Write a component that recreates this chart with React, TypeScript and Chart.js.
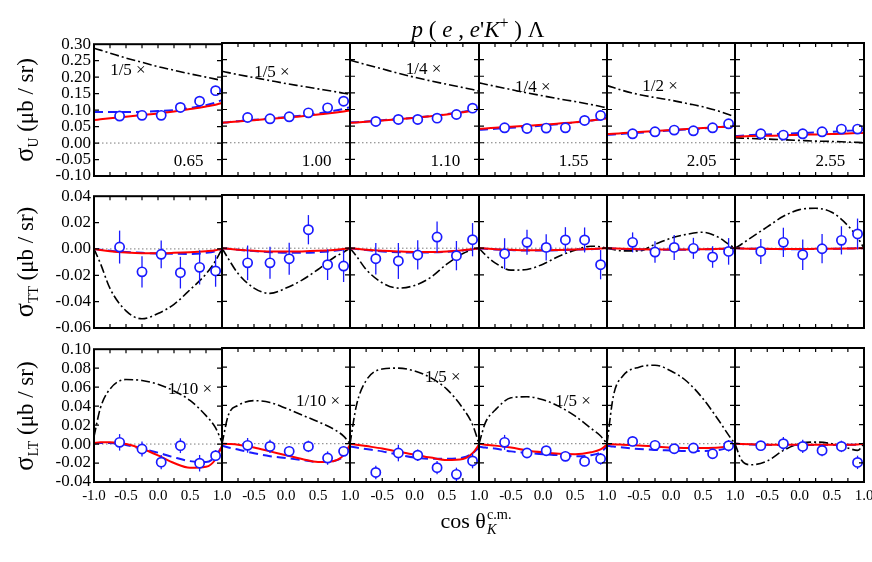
import React, { useEffect, useRef } from "react";
import { Chart, registerables } from "chart.js";
Chart.register(...registerables);

// ---------------- data ----------------
const energies = ["0.65", "1.00", "1.10", "1.55", "2.05", "2.55"];
const pointX = [-0.6, -0.25, 0.05, 0.35, 0.65, 0.9];
const curveX = [-1, -0.9, -0.75, -0.5, -0.25, 0, 0.25, 0.5, 0.75, 0.9, 1];

// sigma_U
const uPoints = [
  [0.082, 0.084, 0.084, 0.108, 0.127, 0.159],
  [0.076, 0.072, 0.078, 0.09, 0.105, 0.125],
  [0.064, 0.07, 0.07, 0.074, 0.085, 0.104],
  [0.045, 0.043, 0.044, 0.045, 0.067, 0.082],
  [0.027, 0.033, 0.038, 0.036, 0.045, 0.057],
  [0.027, 0.023, 0.027, 0.033, 0.041, 0.041],
];
const uErrors = [
  [0.003, 0.003, 0.003, 0.003, 0.003, 0.004],
  [0.003, 0.003, 0.003, 0.003, 0.003, 0.004],
  [0.003, 0.003, 0.003, 0.003, 0.003, 0.004],
  [0.003, 0.003, 0.003, 0.003, 0.003, 0.004],
  [0.003, 0.003, 0.003, 0.003, 0.003, 0.004],
  [0.003, 0.003, 0.003, 0.003, 0.003, 0.004],
];
const uSolid = [
  [0.07, 0.072, 0.075, 0.08, 0.085, 0.09, 0.096, 0.103, 0.111, 0.116, 0.122],
  [0.06, 0.062, 0.064, 0.068, 0.072, 0.076, 0.08, 0.085, 0.09, 0.094, 0.097],
  [0.06, 0.061, 0.063, 0.067, 0.071, 0.075, 0.08, 0.085, 0.092, 0.097, 0.102],
  [0.042, 0.043, 0.045, 0.048, 0.051, 0.054, 0.058, 0.062, 0.067, 0.071, 0.074],
  [0.026, 0.027, 0.029, 0.032, 0.035, 0.038, 0.041, 0.044, 0.047, 0.049, 0.051],
  [0.018, 0.019, 0.02, 0.021, 0.022, 0.024, 0.025, 0.026, 0.028, 0.029, 0.03],
];
const uDashed = [
  [0.094, 0.094, 0.094, 0.094, 0.095, 0.097, 0.1, 0.106, 0.115, 0.123, 0.131],
  [0.06, 0.062, 0.065, 0.069, 0.073, 0.077, 0.082, 0.088, 0.096, 0.102, 0.107],
  [0.061, 0.062, 0.064, 0.068, 0.071, 0.075, 0.08, 0.086, 0.093, 0.098, 0.103],
  [0.039, 0.04, 0.042, 0.045, 0.048, 0.052, 0.056, 0.061, 0.067, 0.071, 0.075],
  [0.024, 0.025, 0.027, 0.03, 0.034, 0.037, 0.04, 0.043, 0.047, 0.049, 0.051],
  [0.02, 0.021, 0.023, 0.025, 0.027, 0.029, 0.031, 0.033, 0.036, 0.038, 0.04],
];
const uDashDot = [
  [0.288, 0.282, 0.273, 0.258, 0.245, 0.232, 0.221, 0.21, 0.2, 0.194, 0.19],
  [0.215, 0.211, 0.205, 0.196, 0.187, 0.178, 0.17, 0.162, 0.154, 0.149, 0.145],
  [0.248, 0.243, 0.235, 0.222, 0.209, 0.197, 0.186, 0.176, 0.166, 0.16, 0.155],
  [0.18, 0.176, 0.17, 0.16, 0.15, 0.141, 0.132, 0.124, 0.115, 0.109, 0.105],
  [0.172, 0.166, 0.157, 0.145, 0.136, 0.128, 0.118, 0.108, 0.095, 0.085, 0.078],
  [0.015, 0.014, 0.013, 0.011, 0.009, 0.007, 0.005, 0.004, 0.002, 0.001, 0.0],
];

// sigma_TT
const ttPoints = [
  [0.0014, -0.0174, -0.0041, -0.018, -0.014, -0.0167],
  [-0.011, -0.011, -0.0079, 0.0139, -0.0124, -0.0134],
  [-0.0079, -0.0096, -0.0051, 0.0084, -0.0056, 0.0064],
  [-0.0041, 0.0044, 0.0006, 0.0062, 0.0062, -0.0124],
  [0.0044, -0.0029, 0.0006, -0.0001, -0.0066, -0.0024],
  [-0.0024, 0.0044, -0.0049, -0.0004, 0.0059, 0.0107],
];
const ttErrors = [
  [0.0125, 0.0118, 0.0105, 0.012, 0.013, 0.012],
  [0.013, 0.012, 0.012, 0.011, 0.0115, 0.012],
  [0.0118, 0.0135, 0.011, 0.0116, 0.011, 0.0125],
  [0.0116, 0.0094, 0.0098, 0.0096, 0.0094, 0.011],
  [0.0075, 0.0081, 0.0094, 0.0079, 0.0081, 0.01],
  [0.0094, 0.011, 0.0115, 0.011, 0.0106, 0.0116],
];
const ttSolid = [
  [0, -0.0008, -0.0018, -0.0028, -0.0033, -0.0033, -0.003, -0.0025, -0.0017, -0.001, 0],
  [0, -0.0005, -0.0012, -0.002, -0.0025, -0.0025, -0.0024, -0.002, -0.0013, -0.0006, 0],
  [0, -0.0005, -0.0012, -0.002, -0.0025, -0.0028, -0.0028, -0.0024, -0.0015, -0.0008, 0],
  [0, -0.0003, -0.0008, -0.0012, -0.0015, -0.0015, -0.0013, -0.001, -0.0006, -0.0003, 0],
  [0, -0.0002, -0.0005, -0.0008, -0.001, -0.001, -0.001, -0.0008, -0.0005, -0.0003, 0],
  [0, -0.0002, -0.0004, -0.0005, -0.0006, -0.0006, -0.0005, -0.0004, -0.0003, -0.0001, 0],
];
const ttDashed = [
  [0, -0.0006, -0.0014, -0.0024, -0.003, -0.0034, -0.0037, -0.0038, -0.003, -0.0018, 0],
  [0, -0.0005, -0.0012, -0.0022, -0.003, -0.0035, -0.0035, -0.003, -0.002, -0.001, 0],
  [0, -0.0006, -0.0014, -0.0024, -0.003, -0.0033, -0.0032, -0.0027, -0.0017, -0.0009, 0],
  [0, -0.0004, -0.0009, -0.0014, -0.0017, -0.0017, -0.0015, -0.0011, -0.0007, -0.0003, 0],
  [0, -0.0003, -0.0006, -0.0009, -0.0011, -0.0011, -0.0011, -0.0009, -0.0006, -0.0003, 0],
  [0, -0.0002, -0.0004, -0.0006, -0.0007, -0.0007, -0.0006, -0.0005, -0.0003, -0.0001, 0],
];
const ttDashDot = [
  [0, -0.011, -0.03, -0.047, -0.053, -0.049, -0.042, -0.031, -0.019, -0.009, 0],
  [0, -0.008, -0.019, -0.03, -0.034, -0.03, -0.024, -0.016, -0.007, -0.003, 0],
  [0, -0.006, -0.016, -0.026, -0.03, -0.028, -0.022, -0.012, -0.004, -0.001, 0],
  [0, -0.005, -0.011, -0.0165, -0.016, -0.012, -0.006, -0.0015, 0.0015, 0.001, 0],
  [0, -0.001, -0.002, -0.002, 0.003, 0.0075, 0.0105, 0.012, 0.008, 0.003, 0],
  [0, 0.003, 0.008, 0.016, 0.024, 0.029, 0.03, 0.027, 0.017, 0.008, 0],
];

// sigma_LT
const ltPoints = [
  [0.0018, -0.0052, -0.0191, -0.0017, -0.0202, -0.0122],
  [-0.0017, -0.0028, -0.008, -0.0028, -0.015, -0.008],
  [-0.03, -0.0097, -0.012, -0.025, -0.032, -0.018],
  [0.0014, -0.0097, -0.0073, -0.0132, -0.0185, -0.0157],
  [0.0024, -0.0017, -0.0052, -0.0045, -0.0105, -0.0021],
  [-0.002, 0.0, -0.0028, -0.007, -0.0028, -0.0195],
];
const ltErrors = [
  [0.0087, 0.0078, 0.0075, 0.0078, 0.0087, 0.0057],
  [0.0077, 0.007, 0.005, 0.006, 0.007, 0.005],
  [0.007, 0.0087, 0.006, 0.007, 0.007, 0.0077],
  [0.0078, 0.005, 0.0047, 0.005, 0.005, 0.006],
  [0.005, 0.005, 0.005, 0.005, 0.005, 0.006],
  [0.004, 0.007, 0.007, 0.006, 0.006, 0.007],
];
const ltSolid = [
  [0.001, 0.0018, 0.002, 0.0, -0.005, -0.012, -0.02, -0.025, -0.024, -0.016, -0.002],
  [0, -0.0003, -0.001, -0.004, -0.008, -0.012, -0.016, -0.019, -0.018, -0.012, -0.001],
  [0, -0.001, -0.0025, -0.005, -0.0085, -0.0115, -0.0145, -0.017, -0.016, -0.01, -0.001],
  [0, -0.0012, -0.002, -0.004, -0.007, -0.009, -0.0105, -0.011, -0.009, -0.006, -0.001],
  [0, -0.0005, -0.001, -0.0018, -0.003, -0.004, -0.0045, -0.0045, -0.004, -0.0025, 0],
  [0, -0.0003, -0.0006, -0.001, -0.001, -0.001, -0.001, -0.001, -0.001, -0.0008, 0],
];
const ltDashed = [
  [0.001, 0.0012, 0.001, -0.001, -0.005, -0.009, -0.014, -0.018, -0.019, -0.013, -0.002],
  [-0.002, -0.004, -0.006, -0.01, -0.013, -0.015, -0.017, -0.019, -0.018, -0.013, -0.002],
  [-0.003, -0.004, -0.0055, -0.008, -0.0115, -0.0145, -0.0157, -0.0157, -0.0145, -0.01, -0.004],
  [-0.003, -0.004, -0.005, -0.008, -0.0095, -0.011, -0.012, -0.013, -0.012, -0.009, -0.003],
  [-0.002, -0.003, -0.004, -0.0055, -0.0065, -0.007, -0.0075, -0.0075, -0.0065, -0.004, -0.001],
  [0, -0.0004, -0.0008, -0.0012, -0.0014, -0.0014, -0.0014, -0.0013, -0.0012, -0.001, 0],
];
const ltDashDot = [
  [0.008, 0.038, 0.058, 0.068, 0.067, 0.063, 0.056, 0.046, 0.03, 0.017, 0.002],
  [0, 0.03, 0.04, 0.045, 0.043, 0.037, 0.03, 0.023, 0.015, 0.008, 0],
  [0, 0.04, 0.066, 0.078, 0.079, 0.076, 0.069, 0.057, 0.037, 0.02, 0],
  [0, 0.022, 0.035, 0.048, 0.049, 0.046, 0.039, 0.029, 0.016, 0.008, 0],
  [0, 0.05, 0.071, 0.08, 0.082, 0.076, 0.065, 0.047, 0.024, 0.009, 0],
  [0, -0.017, -0.022, -0.018, -0.007, 0.0, 0.0017, 0.0, -0.0045, -0.007, 0],
];

const uScaleNotes = ["1/5 \u00d7", "1/5 \u00d7", "1/4 \u00d7", "1/4 \u00d7", "1/2 \u00d7", ""];
const ttScaleNotes = ["", "", "", "", "", ""];
const ltScaleNotes = ["1/10 \u00d7", "1/10 \u00d7", "1/5 \u00d7", "1/5 \u00d7", "", ""];

// ---------------- layout / style ----------------
const SERIF = "'Liberation Serif', 'DejaVu Serif', serif";
const BLUE = "#1a1aff";
const RED = "#ff0000";
const colLefts = [94, 222, 350, 479, 607, 735, 864];
const rowTops = [43, 195, 348];
const rowHeights = [133, 133, 134];
const M = { left: 90, right: 20, top: 12, bottom: 40 };

const uNotePos = [
  [-0.47, 0.22], [-0.22, 0.211], [0.14, 0.22], [-0.16, 0.166], [-0.17, 0.17], [0, 0],
];
const ltNotePos = [
  [0.5, 0.058], [0.5, 0.044], [0.44, 0.069], [0.47, 0.044], [0, 0], [0, 0],
];

type RowDef = {
  points: number[][]; errors: number[][]; solid: number[][]; dashed: number[][]; dashDot: number[][];
  min: number; max: number; step: number; notes: string[]; notePos: number[][]; showEnergy: boolean;
};

const rows: RowDef[] = [
  { points: uPoints, errors: uErrors, solid: uSolid, dashed: uDashed, dashDot: uDashDot, min: -0.1, max: 0.3, step: 0.05, notes: uScaleNotes, notePos: uNotePos, showEnergy: true },
  { points: ttPoints, errors: ttErrors, solid: ttSolid, dashed: ttDashed, dashDot: ttDashDot, min: -0.06, max: 0.04, step: 0.02, notes: ttScaleNotes, notePos: uNotePos, showEnergy: false },
  { points: ltPoints, errors: ltErrors, solid: ltSolid, dashed: ltDashed, dashDot: ltDashDot, min: -0.04, max: 0.1, step: 0.02, notes: ltScaleNotes, notePos: ltNotePos, showEnergy: false },
];

function xy(xs: number[], ys: number[]) {
  return xs.map((x, i) => ({ x, y: ys[i] }));
}

function makeConfig(r: number, c: number): any {
  const row = rows[r];
  const pts = row.points[c];
  const errs = row.errors[c];
  const deco = {
    id: "deco" + r + "_" + c,
    beforeDatasetsDraw(chart: any) {
      const { ctx, chartArea: a, scales } = chart;
      const y0 = scales.y.getPixelForValue(0);
      ctx.save();
      ctx.strokeStyle = "#7a7a7a";
      ctx.lineWidth = 1;
      ctx.setLineDash([1.5, 2.5]);
      ctx.beginPath();
      ctx.moveTo(a.left, y0);
      ctx.lineTo(a.right, y0);
      ctx.stroke();
      ctx.restore();
    },
    beforeDatasetDraw(chart: any, args: any) {
      if (args.index !== 0) return;
      const { ctx, scales } = chart;
      ctx.save();
      ctx.strokeStyle = BLUE;
      ctx.lineWidth = 1.3;
      pts.forEach((v, i) => {
        const px = scales.x.getPixelForValue(pointX[i]);
        ctx.beginPath();
        ctx.moveTo(px, scales.y.getPixelForValue(v - errs[i]));
        ctx.lineTo(px, scales.y.getPixelForValue(v + errs[i]));
        ctx.stroke();
      });
      ctx.restore();
    },
    afterDatasetsDraw(chart: any) {
      const { ctx, chartArea: a, scales } = chart;
      ctx.save();
      ctx.strokeStyle = "#000";
      ctx.lineWidth = 1.2;
      ctx.setLineDash([]);
      // inward ticks
      scales.y.ticks.forEach((t: any) => {
        const py = scales.y.getPixelForValue(t.value);
        if (py <= a.top + 1 || py >= a.bottom - 1) return;
        ctx.beginPath();
        ctx.moveTo(a.left, py); ctx.lineTo(a.left + 5, py);
        ctx.moveTo(a.right, py); ctx.lineTo(a.right - 5, py);
        ctx.stroke();
      });
      scales.x.ticks.forEach((t: any) => {
        const px = scales.x.getPixelForValue(t.value);
        if (px <= a.left + 1 || px >= a.right - 1) return;
        ctx.beginPath();
        ctx.moveTo(px, a.top); ctx.lineTo(px, a.top + 4);
        ctx.moveTo(px, a.bottom); ctx.lineTo(px, a.bottom - 4);
        ctx.stroke();
      });
      // frame
      ctx.lineWidth = 2;
      ctx.strokeRect(a.left, a.top, a.right - a.left, a.bottom - a.top);
      // notes
      ctx.fillStyle = "#000";
      ctx.font = "17px " + SERIF;
      ctx.textAlign = "center";
      ctx.textBaseline = "middle";
      const note = row.notes[c];
      if (note) {
        const [nx, ny] = row.notePos[c];
        ctx.fillText(note, scales.x.getPixelForValue(nx), scales.y.getPixelForValue(ny));
      }
      if (row.showEnergy) {
        ctx.fillText(energies[c], scales.x.getPixelForValue(0.48), scales.y.getPixelForValue(-0.057));
      }
      ctx.restore();
    },
  };
  const lineBase = { pointRadius: 0, fill: false, cubicInterpolationMode: "monotone" };
  return {
    type: "line",
    data: {
      datasets: [
        {
          data: xy(pointX, pts), showLine: false, pointRadius: 4.6, pointBorderWidth: 1.7,
          pointBorderColor: BLUE, pointBackgroundColor: "#ffffff", borderColor: BLUE, order: 0,
        },
        { ...lineBase, data: xy(curveX, row.solid[c]), borderColor: RED, borderWidth: 2, order: 1 },
        { ...lineBase, data: xy(curveX, row.dashed[c]), borderColor: BLUE, borderWidth: 2, borderDash: [9, 5], order: 2 },
        { ...lineBase, data: xy(curveX, row.dashDot[c]), borderColor: "#000", borderWidth: 1.6, borderDash: [9, 3, 2, 3], order: 3 },
      ],
    },
    options: {
      responsive: false,
      animation: false,
      events: [],
      layout: { padding: { top: M.top, right: M.right, left: 0, bottom: 0 } },
      plugins: { legend: { display: false }, tooltip: { enabled: false } },
      scales: {
        x: {
          type: "linear", min: -1, max: 1,
          afterFit: (s: any) => { s.height = M.bottom; },
          grid: { display: false, drawTicks: false },
          border: { display: false },
          ticks: {
            display: r === 2, stepSize: 0.25, autoSkip: false, maxRotation: 0, minRotation: 0,
            padding: 5, color: "#000", font: { family: SERIF, size: 15 },
            callback: (v: number) => {
              const h = v * 2;
              if (Math.abs(h - Math.round(h)) > 1e-6) return "";
              if (c > 0 && v < -0.99) return "";
              return (Math.abs(v) < 1e-9 ? 0 : v).toFixed(1);
            },
          },
        },
        y: {
          type: "linear", min: row.min, max: row.max,
          afterFit: (s: any) => { s.width = M.left; },
          grid: { display: false, drawTicks: false },
          border: { display: false },
          ticks: {
            display: c === 0, stepSize: row.step, autoSkip: false, padding: 3, color: "#000",
            font: { family: SERIF, size: 17 },
            callback: (v: number) => (Math.abs(v) < 1e-9 ? 0 : v).toFixed(2),
          },
        },
      },
    },
    plugins: [deco],
  };
}

function Panel({ r, c }: { r: number; c: number }) {
  const ref = useRef<HTMLCanvasElement | null>(null);
  const w = colLefts[c + 1] - colLefts[c] + M.left + M.right;
  const h = rowHeights[r] + M.top + M.bottom;
  useEffect(() => {
    if (!ref.current) return;
    const chart = new Chart(ref.current, makeConfig(r, c));
    return () => chart.destroy();
  }, [r, c]);
  return (
    <canvas
      ref={ref}
      width={w}
      height={h}
      style={{ position: "absolute", left: colLefts[c] - M.left, top: rowTops[r] - M.top, width: w, height: h }}
    />
  );
}

const yTitles = [
  { sub: "U", cy: 110 },
  { sub: "TT", cy: 262 },
  { sub: "LT", cy: 416 },
];

export default function App() {
  const cells: React.ReactElement[] = [];
  for (let r = 0; r < 3; r++) for (let c = 0; c < 6; c++) cells.push(<Panel key={r + "-" + c} r={r} c={c} />);
  return (
    <div style={{ position: "absolute", left: 0, top: 0, width: 872, height: 562, background: "#fff", fontFamily: SERIF, color: "#000", overflow: "hidden" }}>
      {cells}
      <div style={{ position: "absolute", left: 358, width: 240, top: 10, textAlign: "center", fontSize: 23, whiteSpace: "nowrap", lineHeight: "26px" }}>
        <i>p</i> ( <i>e</i> , <i>e</i>'<i>K</i><sup style={{ fontSize: "0.7em" }}>+</sup> ) Λ
      </div>
      {yTitles.map((t) => (
        <div key={t.sub} style={{ position: "absolute", left: 29, top: t.cy, transform: "translate(-50%, -50%) rotate(-90deg)", whiteSpace: "nowrap", fontSize: 23, lineHeight: "26px" }}>
          <span style={{ fontSize: "1.15em" }}>σ</span><sub style={{ fontSize: "0.6em" }}>{t.sub}</sub> (μb / sr)
        </div>
      ))}
      <div style={{ position: "absolute", left: 476, top: 522, transform: "translate(-50%, -50%)", whiteSpace: "nowrap", fontSize: 22, lineHeight: "26px" }}>
        cos θ
        <span style={{ display: "inline-flex", flexDirection: "column", verticalAlign: "0.6em", fontSize: "0.65em", lineHeight: "1.05", marginLeft: 1 }}>
          <span>c.m.</span>
          <span style={{ fontStyle: "italic" }}>K</span>
        </span>
      </div>
    </div>
  );
}
